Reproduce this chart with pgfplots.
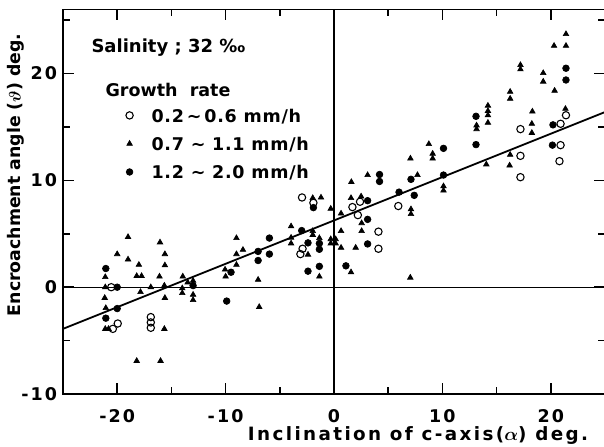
\documentclass[border=0pt]{standalone}
\usepackage{fontspec}
\setmainfont{DejaVu Sans}
\newfontfamily\tickfam{DejaVu Sans}[LetterSpace=12]
\newfontfamily\xlabfam{DejaVu Sans}[LetterSpace=13]
\newfontfamily\legfam{DejaVu Sans}[LetterSpace=4]
\usepackage{pgfplots}
\pgfplotsset{compat=1.18}
\newcommand\tickfont{\tickfam\bfseries\fontsize{10.5}{12}\selectfont}
\newcommand\legfont{\legfam\bfseries\fontsize{10.5}{12}\selectfont}

\pgfplotstableread{
x y
-20.55 0
-20.4 -3.9
-19.95 -3.4
-16.9 -2.8
-16.9 -3.3
-16.9 -3.8
-2.95 8.4
-1.9 7.9
-2.9 3.6
-3.1 3.1
1.7 7.5
2.4 8.0
2.2 6.75
4.1 5.2
4.1 3.6
5.93 7.6
17.2 14.8
17.2 12.3
17.2 10.3
20.9 15.3
21.4 16.1
20.9 13.3
20.8 11.8
}\slowrate

\pgfplotstableread{
x y
-21.1 0.95
-21.1 0
-21.15 -1.0
-21.05 -1.95
-21.1 -3.9
-20.8 -3.9
-19.0 4.7
-16.05 4.2
-20.0 3.1
-19.0 2.6
-15.6 3.1
-18.0 2.1
-15.6 2.05
-18.2 1.05
-17.75 1.05
-16.1 1.0
-15.65 0.15
-16.9 0
-17.85 -0.45
-15.6 -1.0
-15.65 -3.9
-18.2 -6.9
-16.0 -6.9
-13.95 1.0
-14.0 -0.1
-14.0 -0.55
-13.5 0.45
-13.0 0.6
-13.0 -0.7
-13.0 -1.2
-9.0 4.6
-8.4 3.5
-9.0 3.1
-9.0 2.1
-10.05 1.65
-10.0 1.0
-7.0 0.7
-6.9 -1.85
-3.96 5.7
-3.96 4.64
-3.96 4.1
-1.96 5.26
-1.96 4.9
-2.4 3.05
-1.35 4.6
-1.35 1.0
-1.96 8.35
-1.2 8.4
-0.3 7.35
-0.3 4.5
0.15 4.5
-0.3 4.1
0.15 4.1
0.65 6.9
0.65 5.26
0.65 3.7
1.57 1.4
2.0 3.7
2.55 6.0
2.55 5.26
1.57 8.35
2.5 8.5
1.6 9.85
3.1 10.5
7.1 7.3
7.1 6.85
7.04 0.9
7.7 10.5
7.05 12.05
8.75 13.4
9.1 12.5
9.1 12.05
10.1 9.45
10.1 9.05
14.2 17.0
14.2 16.5
14.2 16.1
14.2 15.4
13.15 15.15
13.15 14.8
14.05 11.5
16.25 18.3
16.25 17.65
16.25 12.4
16.2 11.4
17.2 20.8
17.2 20.4
19.3 20.05
19.3 19.25
20.3 22.6
21.4 22.6
21.4 23.7
20.35 18.4
18.3 16.45
18.25 15.3
18.25 14.45
21.35 16.7
}\midrate

\pgfplotstableread{
x y
-21.05 1.75
-20.0 0
-20.0 -2.0
-21.05 -2.9
-13.0 0.15
-9.5 1.4
-9.9 -1.3
-7.0 3.35
-7.0 2.5
-5.96 4.6
-5.96 3.1
-2.98 5.3
-2.4 4.15
-1.35 4.1
-1.35 3.55
-1.9 7.45
-2.4 1.5
-1.35 1.95
1.1 2.0
3.1 4.05
3.1 6.35
3.1 8.1
4.2 10.55
4.2 9.9
6.0 8.9
7.1 10.1
7.4 8.6
10.1 13.0
10.1 10.5
13.1 16.0
13.1 13.35
20.2 15.2
20.15 13.3
21.4 20.5
21.4 19.4
}\fastrate

\begin{document}
\begin{tikzpicture}
\begin{axis}[
  scale only axis, width=325.2pt, height=230.7pt,
  xmin=-25, xmax=25, ymin=-10, ymax=26,
  axis line style={line width=0.9pt},
  xtick={-20,-10,0,10,20}, xticklabels={-20,-10,0,10,20},
  minor xtick={-15,-5,5,15},
  ytick={-10,0,10,20}, yticklabels={-10,0,10,20},
  minor ytick={-5,5,15,25},
  tick align=inside,
  major tick length=6.5pt, minor tick length=4pt,
  every tick/.style={line width=0.9pt, black},
  ticklabel style={font=\tickfont},
  xticklabel style={yshift=-6pt},
  xlabel={Inclination of c-axis({\boldmath$\alpha$}) deg.},
  xlabel style={at={(axis description cs:0.655,0)}, anchor=center, yshift=-25pt, font=\xlabfam\bfseries\fontsize{11}{13}\selectfont},
  ylabel={Encroachment angle ({\boldmath$\vartheta$}) deg.},
  ylabel style={at={(axis description cs:-0.087,0.57)}, anchor=center, font=\bfseries\fontsize{10.4}{12}\selectfont},
  legend style={at={(axis cs:-19.35,16.7)}, anchor=north west, draw=none, fill=none,
    inner sep=0pt, outer sep=0pt, row sep=7.5pt, column sep=0pt, font=\legfont,
    nodes={inner sep=0pt}},
  legend cell align=left,
  legend image code/.code={\draw[#1] plot coordinates {(0pt,0.8pt)}; \path (-3pt,0pt) (13pt,0pt);},
]
\coordinate (SW) at (rel axis cs:0,0);
\coordinate (NE) at (rel axis cs:1,1);
\addplot[line width=0.8pt, forget plot] coordinates {(-25,0) (25,0)};
\addplot[line width=0.8pt, forget plot] coordinates {(0,-10) (0,26)};
\addplot[line width=1.1pt, forget plot] coordinates {(-25,-3.9) (25,16.4)};
\addplot[only marks, mark=o, mark size=2.2pt, mark options={line width=0.65pt, fill=white}] table {\slowrate};
\addlegendentry{0.2\,\textasciitilde\,0.6 mm/h}
\addplot[only marks, mark=triangle*, mark size=1.9pt, mark options={fill=black}] table {\midrate};
\addlegendentry{0.7 \textasciitilde\ 1.1 mm/h}
\addplot[only marks, mark=*, mark size=2pt, mark options={fill=black}] table {\fastrate};
\addlegendentry{1.2 \textasciitilde\ 2.0 mm/h}
\node[anchor=west, inner sep=0pt, font=\bfseries\fontsize{10.8}{12}\selectfont] at (axis cs:-22.4,22.4) {Salinity ; 32 ‰};
\node[anchor=west, inner sep=0pt, font=\bfseries\fontsize{10.5}{12}\selectfont] at (axis cs:-21.1,18.5) {Growth\ \ rate};
\end{axis}
\pgfresetboundingbox
\path ([xshift=-37.8pt,yshift=-31.2pt]SW) rectangle ([xshift=-0.6pt,yshift=5.7pt]NE);
\end{tikzpicture}
\end{document}
